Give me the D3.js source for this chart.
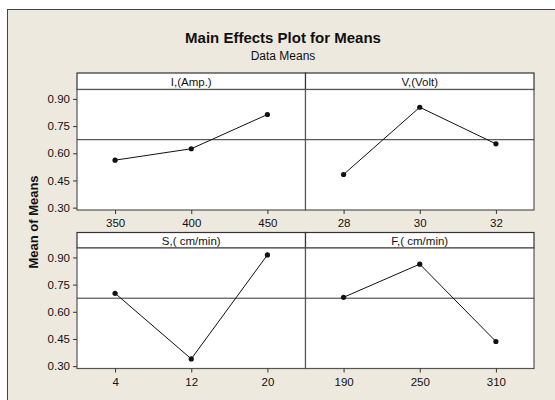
<!DOCTYPE html>
<html>
<head>
<meta charset="utf-8">
<script src="https://cdn.jsdelivr.net/npm/d3@7"></script>
<style>
  body { margin: 0; background: #fff; }
  text { font-family: "Liberation Sans", Arial, sans-serif; fill: #111; }
</style>
</head>
<body>
<script>
// factor levels and the means
var factorNames = ['I,(Amp.)', 'V,(Volt)', 'S,( cm/min)', 'F,( cm/min)'];
var levelsI = ['350', '400', '450'];
var levelsV = ['28', '30', '32'];
var levelsS = ['4', '12', '20'];
var levelsF = ['190', '250', '310'];
var meansI = [0.562, 0.625, 0.814];
var meansV = [0.483, 0.854, 0.652];
var meansS = [0.702, 0.340, 0.914];
var meansF = [0.680, 0.863, 0.436];
var grandMean = 0.675;
var yTicks = [0.30, 0.45, 0.60, 0.75, 0.90];

var panels = [
  { name: factorNames[0], levels: levelsI, values: meansI, col: 0, row: 0 },
  { name: factorNames[1], levels: levelsV, values: meansV, col: 1, row: 0 },
  { name: factorNames[2], levels: levelsS, values: meansS, col: 0, row: 1 },
  { name: factorNames[3], levels: levelsF, values: meansF, col: 1, row: 1 }
];

var width = 555, height = 400;
var svg = d3.select('body').append('svg').attr('width', width).attr('height', height);

// beige frame
svg.append('rect')
   .attr('x', 7.5).attr('y', 9.5)
   .attr('width', width).attr('height', height)
   .attr('fill', '#eee9df').attr('stroke', '#444').attr('stroke-width', 1);

svg.append('text').attr('x', 283).attr('y', 43)
   .attr('text-anchor', 'middle').style('font-size', '15px').style('font-weight', 'bold')
   .text('Main Effects Plot for Means');
svg.append('text').attr('x', 283).attr('y', 60)
   .attr('text-anchor', 'middle').style('font-size', '12px')
   .text('Data Means');

svg.append('text')
   .attr('transform', 'translate(37.5,222) rotate(-90)')
   .attr('text-anchor', 'middle').style('font-size', '13px').style('font-weight', 'bold')
   .text('Mean of Means');

var left = 77, panelW = 228.5;
var rows = [
  { stripTop: 73, plotTop: 89.5, plotBottom: 210 },
  { stripTop: 232.5, plotTop: 248, plotBottom: 368.5 }
];

panels.forEach(function(p) {
  var r = rows[p.row];
  var x0 = left + p.col * panelW;

  var x = d3.scalePoint().domain(p.levels).range([x0, x0 + panelW]).padding(0.5);
  var y = d3.scaleLinear().domain([0.287, 0.952]).range([r.plotBottom, r.plotTop]);

  var g = svg.append('g');

  // strip
  g.append('rect').attr('x', x0).attr('y', r.stripTop)
   .attr('width', panelW).attr('height', r.plotTop - r.stripTop)
   .attr('fill', '#fff').attr('stroke', '#333').attr('stroke-width', 1.2);
  g.append('text').attr('x', x0 + panelW / 2).attr('y', r.plotTop - 3.5)
   .attr('text-anchor', 'middle').style('font-size', '11.5px')
   .text(p.name);

  // plot area
  g.append('rect').attr('x', x0).attr('y', r.plotTop)
   .attr('width', panelW).attr('height', r.plotBottom - r.plotTop)
   .attr('fill', '#fff').attr('stroke', '#555').attr('stroke-width', 1.2);

  // reference line at the overall mean
  g.append('line')
   .attr('x1', x0).attr('x2', x0 + panelW)
   .attr('y1', y(grandMean)).attr('y2', y(grandMean))
   .attr('stroke', '#333').attr('stroke-width', 1);

  // x axis
  var xa = g.append('g').attr('transform', 'translate(0,' + r.plotBottom + ')')
            .call(d3.axisBottom(x).tickSize(4).tickSizeOuter(0));
  xa.select('.domain').remove();
  xa.selectAll('line').attr('stroke', '#333');
  xa.selectAll('text').style('font-size', '11.5px').attr('dy', '0.9em').attr('fill', '#111');

  // y axis on the left column only
  if (p.col === 0) {
    var ya = g.append('g').attr('transform', 'translate(' + x0 + ',0)')
              .call(d3.axisLeft(y).tickValues(yTicks).tickFormat(d3.format('.2f')).tickSize(4).tickSizeOuter(0));
    ya.select('.domain').remove();
    ya.selectAll('line').attr('stroke', '#333');
    ya.selectAll('text').style('font-size', '11.5px').attr('fill', '#111');
  }

  var pts = p.levels.map(function(l, i) { return [x(l), y(p.values[i])]; });
  g.append('path').attr('d', d3.line()(pts))
   .attr('fill', 'none').attr('stroke', '#111').attr('stroke-width', 1);
  g.selectAll('circle.pt').data(pts).enter().append('circle')
   .attr('cx', function(d) { return d[0]; })
   .attr('cy', function(d) { return d[1]; })
   .attr('r', 2.6).attr('fill', '#111');
});
</script>
</body>
</html>
